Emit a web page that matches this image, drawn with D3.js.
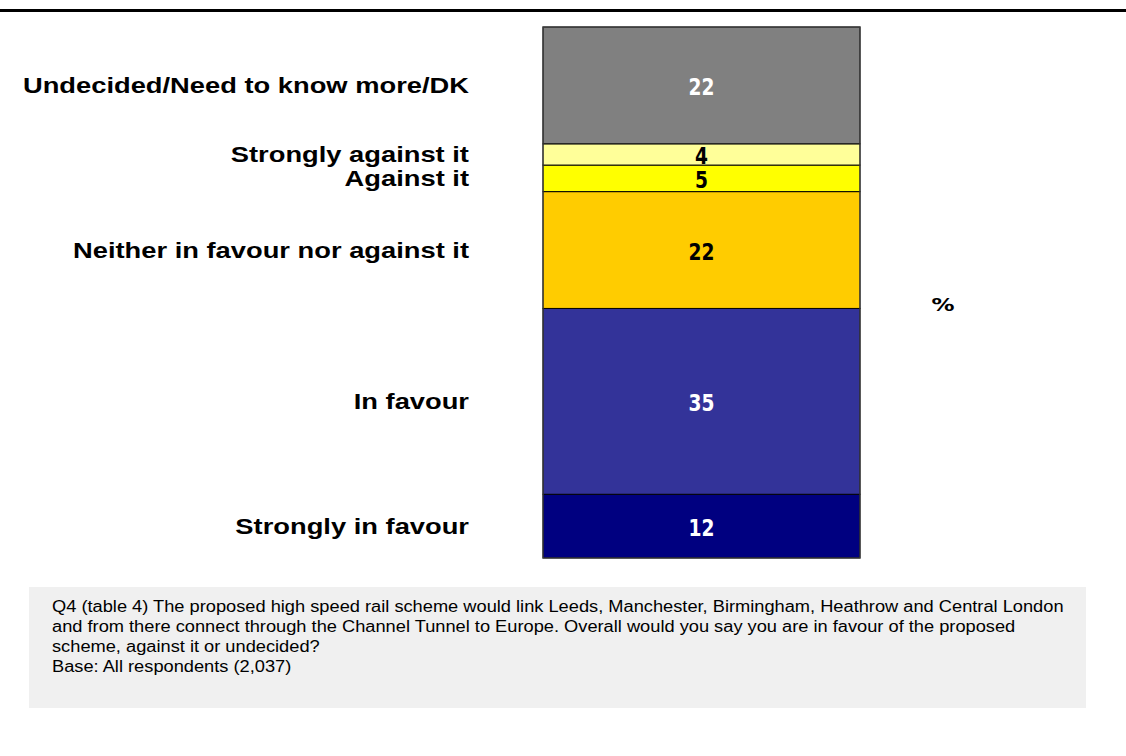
<!DOCTYPE html>
<html>
<head>
<meta charset="utf-8">
<script src="https://cdn.jsdelivr.net/npm/d3@7"></script>
<style>
  html, body { margin: 0; padding: 0; background: #ffffff; }
  svg { display: block; }
</style>
</head>
<body>
<svg id="chart" width="1126" height="756"></svg>
<script>
// Data (bottom to top)
const categories = ["Strongly in favour", "In favour", "Neither in favour nor against it", "Against it", "Strongly against it", "Undecided/Need to know more/DK"];
const values = [12, 35, 22, 5, 4, 22];
const colors = ["#000080", "#333399", "#FFCC00", "#FFFF00", "#FFFF99", "#808080"];
const labelColors = ["#ffffff", "#ffffff", "#000000", "#000000", "#000000", "#ffffff"];
const unitLabel = "%";
const footnoteLines = [
  "Q4 (table 4) The proposed high speed rail scheme would link Leeds, Manchester, Birmingham, Heathrow and Central London",
  "and from there connect through the Channel Tunnel to Europe. Overall would you say you are in favour of the proposed",
  "scheme, against it or undecided?",
  "Base: All respondents (2,037)"
];

const svg = d3.select("#chart");
const W = 1126;

// stretch text horizontally to mimic the reference's wide rendering
function stretch(sel, factor) {
  sel.each(function () {
    const len = this.getComputedTextLength();
    d3.select(this).attr("textLength", len * factor).attr("lengthAdjust", "spacingAndGlyphs");
  });
}

// top rule
svg.append("rect").attr("x", 0).attr("y", 9).attr("width", W).attr("height", 3).attr("fill", "#000");

// stacked data
let cum = 0;
const stacked = values.map((v, i) => {
  const d = { cat: categories[i], value: v, y0: cum, y1: cum + v, color: colors[i], lc: labelColors[i] };
  cum += v;
  return d;
});

const y = d3.scaleLinear().domain([0, cum]).range([558, 27]);
const x = d3.scaleBand().domain(["all"]).range([543, 860]).padding(0);

const g = svg.append("g");
g.selectAll("rect.seg").data(stacked).join("rect")
  .attr("class", "seg")
  .attr("x", x("all"))
  .attr("width", x.bandwidth())
  .attr("y", d => y(d.y1))
  .attr("height", d => y(d.y0) - y(d.y1))
  .attr("fill", d => d.color)
  .attr("stroke", "#000")
  .attr("stroke-width", 1);

// outer frame
g.append("rect")
  .attr("x", x("all")).attr("y", y(cum))
  .attr("width", x.bandwidth()).attr("height", y(0) - y(cum))
  .attr("fill", "none").attr("stroke", "#404040").attr("stroke-width", 1.2);

// value labels
const vals = g.selectAll("text.val").data(stacked).join("text")
  .attr("class", "val")
  .attr("x", x("all") + x.bandwidth() / 2)
  .attr("y", d => (y(d.y0) + y(d.y1)) / 2 + 1)
  .attr("dy", "0.37em")
  .attr("text-anchor", "middle")
  .attr("fill", d => d.lc)
  .style("font-family", "'DejaVu Sans Condensed', 'DejaVu Sans', sans-serif")
  .style("font-weight", "bold")
  .style("font-size", "23px")
  .text(d => d.value);
stretch(vals, 0.9);

// category labels
const cats = g.selectAll("text.cat").data(stacked).join("text")
  .attr("class", "cat")
  .attr("x", 469)
  .attr("y", d => (y(d.y0) + y(d.y1)) / 2)
  .attr("dy", "0.36em")
  .attr("text-anchor", "end")
  .attr("fill", "#000")
  .style("font-family", "'Liberation Sans', Arial, sans-serif")
  .style("font-weight", "bold")
  .style("font-size", "21.5px")
  .text(d => d.cat);
stretch(cats, 1.27);

// unit label
const unit = svg.append("text")
  .attr("x", 943).attr("y", 305).attr("dy", "0.36em")
  .attr("text-anchor", "middle")
  .style("font-family", "'DejaVu Sans', sans-serif")
  .style("font-weight", "bold").style("font-size", "17px")
  .text(unitLabel);
stretch(unit, 1.35);

// footnote box
svg.append("rect").attr("x", 29).attr("y", 587).attr("width", 1057).attr("height", 121).attr("fill", "#F0F0F0");
const fn = svg.selectAll("text.fn").data(footnoteLines).join("text")
  .attr("class", "fn")
  .attr("x", 52)
  .attr("y", (d, i) => 612 + i * 20)
  .style("font-family", "'Liberation Sans', Arial, sans-serif")
  .style("font-size", "16px")
  .attr("fill", "#000")
  .text(d => d);
stretch(fn, 1.14);
</script>
</body>
</html>
